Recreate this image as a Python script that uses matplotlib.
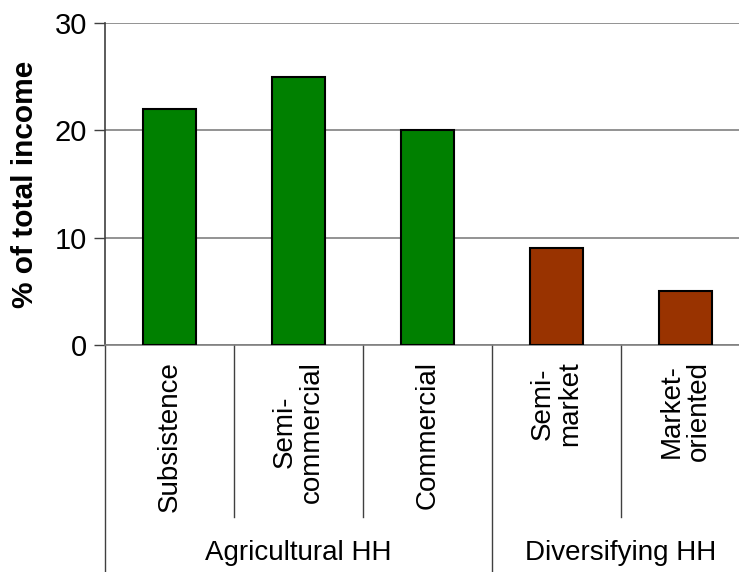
import matplotlib
matplotlib.use("Agg")
import matplotlib.pyplot as plt
import matplotlib.transforms as mtransforms

plt.rcParams['font.family'] = ['Liberation Sans', 'DejaVu Sans']

# data
categories = ['Subsistence', 'Semi-\ncommercial', 'Commercial', 'Semi-\nmarket', 'Market-\noriented']
values = [22, 25, 20, 9, 5]
groups = ['Agricultural HH', 'Agricultural HH', 'Agricultural HH', 'Diversifying HH', 'Diversifying HH']
group_names = ['Agricultural HH', 'Diversifying HH']
colors = ['#008000', '#008000', '#008000', '#993300', '#993300']

fig = plt.figure(figsize=(7.39, 5.72), dpi=100)
# right edge of plot area runs past the picture edge like in the original
ax = fig.add_axes([105 / 739, (572 - 345) / 572, 645 / 739, 322 / 572])

x = list(range(len(categories)))
ax.bar(x, values, width=0.41, color=colors, edgecolor='black', linewidth=1.5, zorder=3)

ax.set_xlim(-0.5, len(categories) - 0.5)
ax.set_ylim(0, 30)
ax.set_yticks([0, 10, 20, 30])
ax.tick_params(axis='y', labelsize=21, length=8, width=1, color='#404040', pad=5)
ax.set_xticks([])
ax.yaxis.grid(True, color='#808080', linewidth=1.2, zorder=0)
ax.set_axisbelow(True)
for s in ['top', 'right']:
    ax.spines[s].set_visible(False)
ax.spines['left'].set_color('#404040')
ax.spines['left'].set_linewidth(1.2)
ax.spines['bottom'].set_color('#808080')
ax.spines['bottom'].set_linewidth(1.2)

ax.set_ylabel('% of total income', fontsize=21.5, fontweight='bold', va='center')
ax.yaxis.set_label_coords(-0.124, 0.5)

# category labels and separators below the axis
trans = mtransforms.blended_transform_factory(ax.transData, ax.transAxes)
for i, c in enumerate(categories):
    ax.text(i, -0.05, c, rotation=90, ha='center', va='top', multialignment='center',
            fontsize=20, transform=trans, linespacing=1.05)

for i in range(len(categories) + 1):
    xs = i - 0.5
    new_group = i == 0 or i == len(categories) or groups[i] != groups[i - 1]
    y_end = -0.71 if new_group else -0.534
    ax.plot([xs, xs], [0, y_end], color='#404040', linewidth=1, transform=trans, clip_on=False)

for g in group_names:
    idx = [i for i, gg in enumerate(groups) if gg == g]
    ax.text(sum(idx) / len(idx), -0.645, g, ha='center', va='center', fontsize=20,
            family=['Liberation Sans Narrow', 'Liberation Sans'], transform=trans)

fig.savefig('out.png', dpi=100)
